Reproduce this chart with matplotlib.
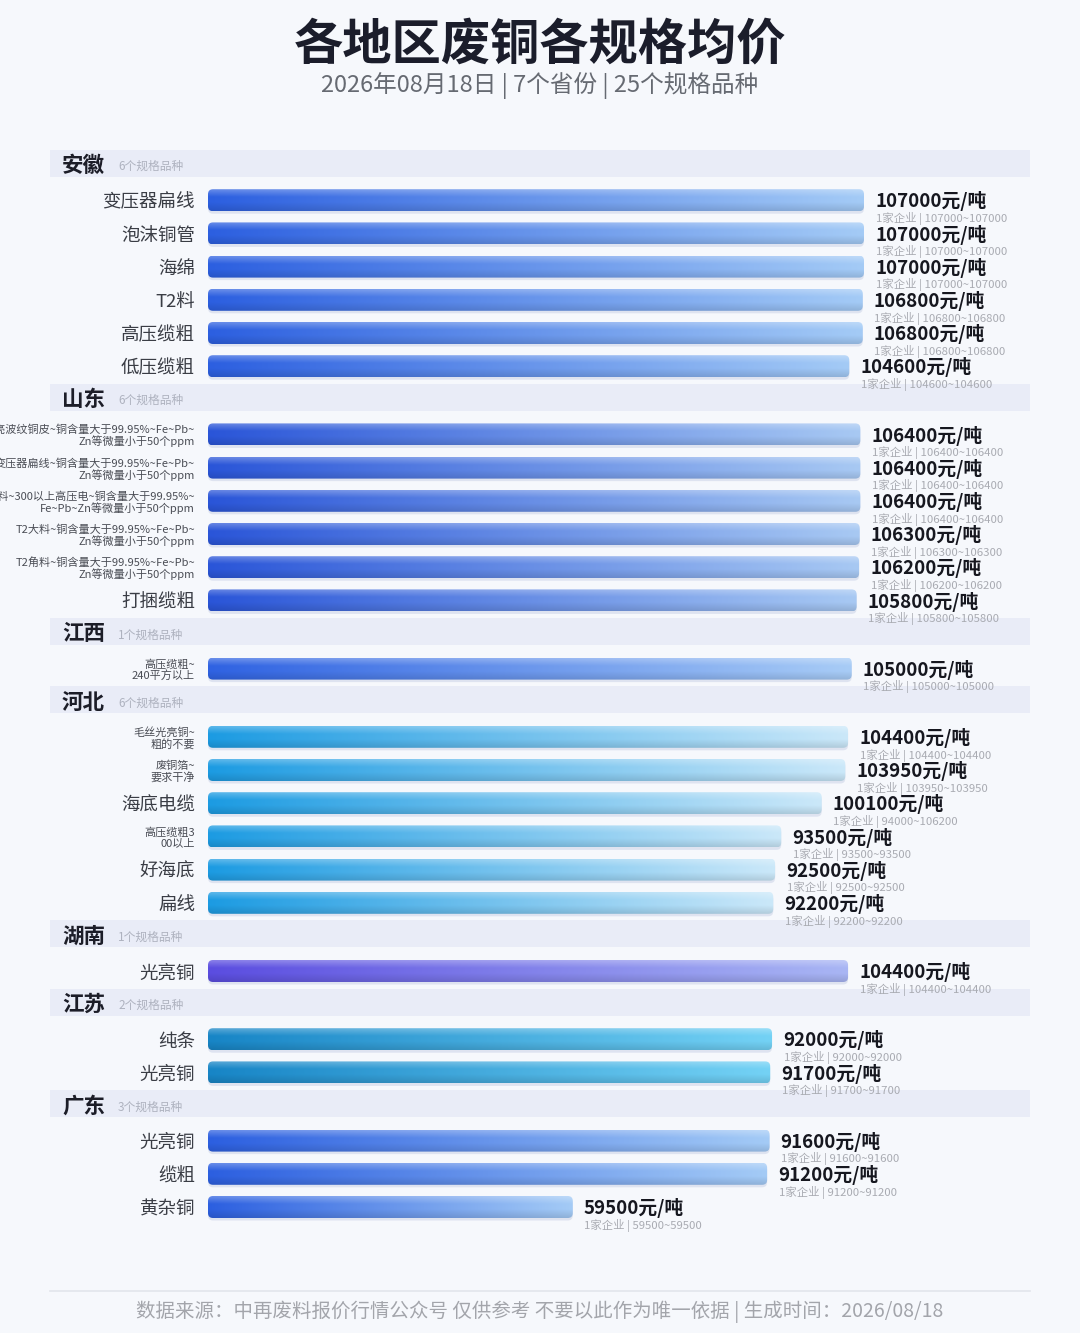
import numpy as np
import matplotlib.pyplot as plt
from matplotlib.patches import FancyBboxPatch, Rectangle
from matplotlib.colors import to_rgb

plt.rcParams['font.family'] = ['Noto Sans CJK SC', 'DejaVu Sans']

# ---- data ----
provinces = ['安徽', '山东', '江西', '河北', '湖南', '江苏', '广东']
item_counts = [6, 6, 1, 6, 1, 2, 3]

items = [
    '变压器扁线', '泡沫铜管', '海绵', 'T2料', '高压缆粗', '低压缆粗',
    '光亮波纹铜皮~铜含量大于99.95%~Fe~Pb~\nZn等微量小于50个ppm',
    '变压器扁线~铜含量大于99.95%~Fe~Pb~\nZn等微量小于50个ppm',
    '电缆料~300以上高压电~铜含量大于99.95%~\nFe~Pb~Zn等微量小于50个ppm',
    'T2大料~铜含量大于99.95%~Fe~Pb~\nZn等微量小于50个ppm',
    'T2角料~铜含量大于99.95%~Fe~Pb~\nZn等微量小于50个ppm',
    '打捆缆粗',
    '高压缆粗~\n240平方以上',
    '毛丝光亮铜~\n粗的不要', '废铜箔~\n要求干净', '海底电缆', '高压缆粗3\n00以上', '好海底', '扁线',
    '光亮铜',
    '纯条', '光亮铜',
    '光亮铜', '缆粗', '黄杂铜',
]
prices = [107000, 107000, 107000, 106800, 106800, 104600,
          106400, 106400, 106400, 106300, 106200, 105800,
          105000,
          104400, 103950, 100100, 93500, 92500, 92200,
          104400,
          92000, 91700,
          91600, 91200, 59500]
price_low = [107000, 107000, 107000, 106800, 106800, 104600,
             106400, 106400, 106400, 106300, 106200, 105800,
             105000,
             104400, 103950, 94000, 93500, 92500, 92200,
             104400,
             92000, 91700,
             91600, 91200, 59500]
price_high = [107000, 107000, 107000, 106800, 106800, 104600,
              106400, 106400, 106400, 106300, 106200, 105800,
              105000,
              104400, 103950, 106200, 93500, 92500, 92200,
              104400,
              92000, 91700,
              91600, 91200, 59500]
companies = [1] * 25

# gradient colours per province (left, right)
prov_colors = {
    '安徽': ('#2c5fe0', '#a4cbf6'),
    '山东': ('#2a55d8', '#a8c9f3'),
    '江西': ('#2f62e2', '#a8ccf6'),
    '河北': ('#1c9be2', '#cbe8f9'),
    '湖南': ('#5b4de0', '#a9b6f4'),
    '江苏': ('#1785c6', '#74d2f5'),
    '广东': ('#2c5fe0', '#a4cbf6'),
}

W, H = 1080, 1333
fig = plt.figure(figsize=(W / 100, H / 100), dpi=100)
fig.patch.set_facecolor('#f6f8fc')

# background / layout axes in pixel coords
bg = fig.add_axes([0, 0, 1, 1])
bg.set_xlim(0, W)
bg.set_ylim(H, 0)
bg.axis('off')

# bar axes: x in yuan, y in pixels
x0_px, ref_px = 208, 656           # bar origin and length of 107000 bar
k = 107000 / ref_px                # yuan per pixel
ax = fig.add_axes([0, 0, 1, 1])
ax.patch.set_alpha(0)
ax.axis('off')

tdy = 2.5  # CJK text sits a bit high with va=center

# titles
bg.text(540, 43 + tdy, '各地区废铜各规格均价', ha='center', va='center', fontsize=35.5,
        fontweight='heavy', color='#1b1d2b')
bg.text(540, 83 + tdy, '2026年08月18日 | 7个省份 | 25个规格品种', ha='center', va='center',
        fontsize=17, color='#666a72')

bar_h = 22
rad = 5


def grad_bar(v, y, c1, c2):
    c1, c2 = np.array(to_rgb(c1)), np.array(to_rgb(c2))
    nx, ny = 300, 40
    tx = np.linspace(0, 1, nx)[None, :, None]
    ty = np.linspace(0, 1, ny)[:, None, None]
    img = c1 * (1 - tx) + c2 * tx
    img = np.broadcast_to(img, (ny, nx, 3)).copy()
    light = 0.28 * np.clip(1 - ty / 0.35, 0, 1)
    dark = 0.12 * np.clip((ty - 0.6) / 0.4, 0, 1)
    img = img * (1 - light) + light
    img = img * (1 - dark)
    shadow = FancyBboxPatch((0, y - bar_h / 2 + 2.5), v, bar_h,
                            boxstyle=f'round,pad=0,rounding_size={rad * k}',
                            mutation_aspect=1 / k, fc='#8a9cc8', ec='none',
                            alpha=0.22, zorder=1)
    ax.add_patch(shadow)
    clip = FancyBboxPatch((0, y - bar_h / 2), v, bar_h,
                          boxstyle=f'round,pad=0,rounding_size={rad * k}',
                          mutation_aspect=1 / k, fc='none', ec='none',
                          transform=ax.transData)
    ax.add_patch(clip)
    im = ax.imshow(img, extent=(0, v, y + bar_h / 2, y - bar_h / 2), origin='upper',
                   aspect='auto', interpolation='bilinear', zorder=2)
    im.set_clip_path(clip)


y = 163.0
idx = 0
for p, n in zip(provinces, item_counts):
    # section header band
    bg.add_patch(Rectangle((50, y - 13.5), 980, 27, fc='#e9ecf7', ec='none', zorder=0))
    bg.text(62, y + tdy, p, ha='left', va='center', fontsize=15.5, fontweight='bold',
            color='#1c1d28')
    bg.text(118, y + 1 + tdy, f'{n}个规格品种', ha='left', va='center', fontsize=8.5,
            color='#aeb2bf')
    y += 37.2
    for j in range(n):
        lab = items[idx]
        v = prices[idx]
        if '\n' in lab:
            bg.text(195, y + 1.5, lab, ha='right', va='center', fontsize=8,
                    color='#4a4d55', linespacing=1.05, multialignment='right')
        else:
            bg.text(195, y + tdy, lab, ha='right', va='center', fontsize=13.3,
                    color='#3a3d45')
        c1, c2 = prov_colors[p]
        grad_bar(v, y, c1, c2)
        ax.annotate(f'{v}元/吨', xy=(v, y), xytext=(8, -0.8), textcoords='offset points',
                    ha='left', va='center', fontsize=13.5, fontweight='bold',
                    color='#16171f', zorder=5)
        ax.annotate(f'{companies[idx]}家企业 | {price_low[idx]}~{price_high[idx]}',
                    xy=(v, y), xytext=(8.3, -13.2), textcoords='offset points',
                    ha='left', va='center', fontsize=8.2, color='#a9abb2', zorder=5)
        idx += 1
        y += 33.2
    y += 31 - 33.2

ax.set_xlim(-x0_px * k, (W - x0_px) * k)
ax.set_ylim(H, 0)

# footer
bg.plot([50, 1030], [1291, 1291], color='#e2e5ec', lw=1.2)
bg.text(540, 1309 + tdy, '数据来源：中再废料报价行情公众号 仅供参考 不要以此作为唯一依据 | 生成时间：2026/08/18',
        ha='center', va='center', fontsize=14, color='#a3a5ab')

fig.savefig('out.png', dpi=100, facecolor=fig.get_facecolor())
